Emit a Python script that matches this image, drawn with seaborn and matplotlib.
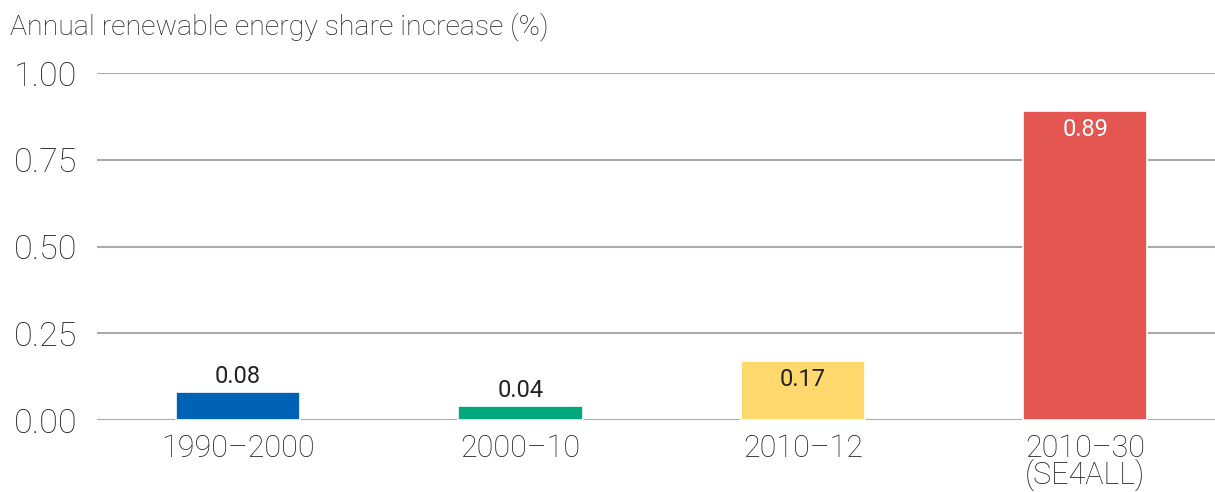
import matplotlib
matplotlib.use("Agg")
import matplotlib.pyplot as plt
import seaborn as sns
import pandas as pd

categories = ["1990–2000", "2000–10", "2010–12", "2010–30\n(SE4ALL)"]
values = [0.08, 0.04, 0.17, 0.89]
colors = ["#0062B4", "#00A87E", "#FFD86E", "#E35651"]
label_inside = [False, False, True, True]
label_colors = ["#222222", "#222222", "#222222", "#FFFFFF"]
yticks = [0.00, 0.25, 0.50, 0.75, 1.00]
title = "Annual renewable energy share increase (%)"

sns.set_theme(style="white")
plt.rcParams["font.family"] = ["Roboto", "DejaVu Sans"]

df = pd.DataFrame({"period": categories, "value": values})

fig = plt.figure(figsize=(12.15, 4.92), dpi=100)
ax = fig.add_axes([0.0798, 0.1463, 0.9202, 0.7053])

sns.barplot(data=df, x="period", y="value", hue="period", palette=colors,
            width=0.44, legend=False, ax=ax, edgecolor="white", linewidth=1.2,
            zorder=3, saturation=1)

ax.set_ylim(0, 1.0)
ax.set_xlim(-0.5, 3.46)
ax.set_yticks(yticks)
ax.set_yticklabels([f"{t:.2f}" for t in yticks])
ax.yaxis.grid(True, color="#AAAAAA", linewidth=1.5, zorder=0)
ax.set_axisbelow(True)
for s in ax.spines.values():
    s.set_visible(False)
ax.axhline(0, color="#AAAAAA", linewidth=2, zorder=2)
ax.tick_params(axis="y", length=0, pad=14, labelsize=24.5, labelcolor="#222222")
ax.tick_params(axis="x", length=0, pad=10, labelsize=22, labelcolor="#222222")
for lab in ax.get_xticklabels() + ax.get_yticklabels():
    lab.set_fontweight("light")
for lab in ax.get_xticklabels():
    lab.set_linespacing(0.84)
ax.set_xlabel("")
ax.set_ylabel("")

for i, (v, inside, c) in enumerate(zip(values, label_inside, label_colors)):
    if inside:
        ax.annotate(f"{v:.2f}", (i, v), xytext=(0, -5), textcoords="offset points",
                    ha="center", va="top", fontsize=17, color=c, zorder=5)
    else:
        ax.annotate(f"{v:.2f}", (i, v), xytext=(0, 3), textcoords="offset points",
                    ha="center", va="bottom", fontsize=17, color=c, zorder=5)

fig.text(0.008, 0.945, title, ha="left", va="center", fontsize=20.5,
         color="#222222", fontweight="light")

fig.savefig("out.png", dpi=100)
